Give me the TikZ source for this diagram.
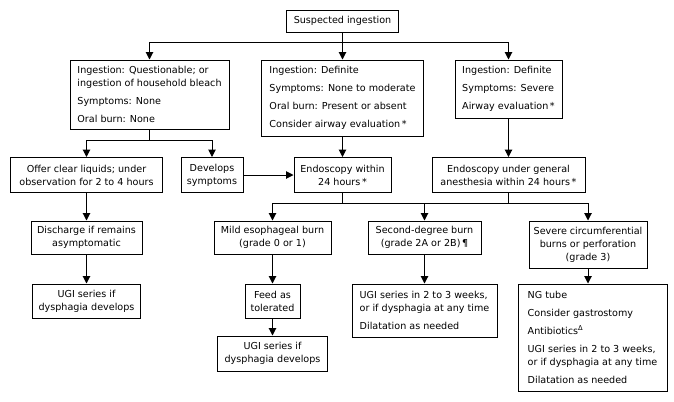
\documentclass[tikz,border=0pt]{standalone}
\usepackage{fontspec}
\setmainfont{DejaVu Sans}
\usetikzlibrary{arrows.meta, positioning}
\tikzset{
  box/.style={
    rectangle,
    draw=black,
    line width=0.75pt,
    align=center,
    inner sep=0pt,
    font=\fontsize{7.2pt}{9.75pt}\selectfont
  },
  listbox/.style={
    box,
    align=left
  },
  line/.style={
    line width=0.75pt
  },
  arrow/.style={
    line width=0.75pt,
    -{Triangle[length=5.5pt,width=5.5pt]}
  }
}

\begin{document}
\begin{tikzpicture}[x=0.75pt, y=-0.75pt]
  \useasboundingbox (0,0) rectangle (674,401);

  % first row
  \node[box, minimum width=84pt, minimum height=16.5pt] (top) at (342.5,21) {Suspected ingestion};

  \node[listbox, minimum width=119.25pt, minimum height=51.75pt] (qa) at (149.5,94.5) {
    Ingestion: Questionable; or\\
    ingestion of household bleach\\[3.75pt]
    Symptoms: None\\[3.75pt]
    Oral burn: None
  };

  \node[listbox, minimum width=121.5pt, minimum height=57pt] (qb) at (342.5,98) {
    Ingestion: Definite\\[3.75pt]
    Symptoms: None to moderate\\[3.75pt]
    Oral burn: Present or absent\\[3.75pt]
    Consider airway evaluation\,*
  };

  \node[listbox, minimum width=80.25pt, minimum height=43.5pt] (qc) at (508.5,89) {
    Ingestion: Definite\\[3.75pt]
    Symptoms: Severe\\[3.75pt]
    Airway evaluation\,*
  };

  % second row
  \node[box, minimum width=114pt, minimum height=26.25pt] (offer) at (86.5,175) {Offer clear liquids; under\\observation for 2 to 4 hours};
  \node[box, minimum width=46.5pt, minimum height=26.25pt] (dev) at (212,175) {Develops\\symptoms};
  \node[box, minimum width=72.75pt, minimum height=26.25pt] (endo) at (342.5,175) {Endoscopy within\\24 hours\,*};
  \node[box, minimum width=114.75pt, minimum height=26.25pt] (endoga) at (508.5,175) {Endoscopy under general\\anesthesia within 24 hours\,*};

  % third row
  \node[box, minimum width=83.25pt, minimum height=24.75pt] (discharge) at (86.5,237.5) {Discharge if remains\\asymptomatic};
  \node[box, minimum width=87.75pt, minimum height=24.75pt] (mild) at (272.5,237.5) {Mild esophageal burn\\(grade 0 or 1)};
  \node[box, minimum width=84.75pt, minimum height=24.75pt] (second) at (424.5,237.5) {Second-degree burn\\(grade 2A or 2B)\,¶};
  \node[box, minimum width=88.5pt, minimum height=35.25pt] (severe) at (588,244.5) {Severe circumferential\\burns or perforation\\(grade 3)};

  % fourth row
  \node[box, minimum width=81pt, minimum height=25.5pt] (ugil) at (86.5,301) {UGI series if\\dysphagia develops};
  \node[box, minimum width=41.25pt, minimum height=25.5pt] (feed) at (272.5,301) {Feed as\\tolerated};
  \node[box, minimum width=82.5pt, minimum height=26.25pt] (ugim) at (272.5,353.5) {UGI series if\\dysphagia develops};

  \node[listbox, minimum width=108.75pt, minimum height=39.75pt] (ugis) at (424.5,310.5) {
    UGI series in 2 to 3 weeks,\\
    or if dysphagia at any time\\[3.75pt]
    Dilatation as needed
  };

  \node[listbox, minimum width=111.75pt, minimum height=80.25pt] (list) at (592.5,337.5) {
    NG tube\\[3.75pt]
    Consider gastrostomy\\[3.75pt]
    Antibiotics\textsuperscript{Δ}\\[3.75pt]
    UGI series in 2 to 3 weeks,\\
    or if dysphagia at any time\\[3.75pt]
    Dilatation as needed
  };

  % branch points
  \coordinate (s1) at (342.5,42);
  \coordinate (s2) at (149.5,140);
  \coordinate (s3) at (342.5,203);
  \coordinate (s4) at (508.5,203);
  \coordinate (s5) at (424.5,203);

  % connectors
  \draw[line] (top) -- (s1);
  \draw[arrow] (s1) -| (qa);
  \draw[arrow] (s1) -- (qb);
  \draw[arrow] (s1) -| (qc);

  \draw[line] (qa) -- (s2);
  \draw[arrow] (s2) -| (offer);
  \draw[arrow] (s2) -| (dev);
  \draw[arrow] (dev) -- (endo);
  \draw[arrow] (qb) -- (endo);
  \draw[arrow] (qc) -- (endoga);

  \draw[arrow] (offer) -- (discharge);
  \draw[arrow] (discharge) -- (ugil);

  \draw[line] (endo) -- (s3);
  \draw[line] (endoga) -- (s4);
  \draw[line] (s3) -- (s4);
  \draw[arrow] (s3) -| (mild);
  \draw[arrow] (s5) -- (second);
  \draw[arrow] (s4) -| (severe);

  \draw[arrow] (mild) -- (feed);
  \draw[arrow] (feed) -- (ugim);
  \draw[arrow] (second) -- (ugis);
  \draw[arrow] (severe) -- (severe |- list.north);
\end{tikzpicture}
\end{document}
